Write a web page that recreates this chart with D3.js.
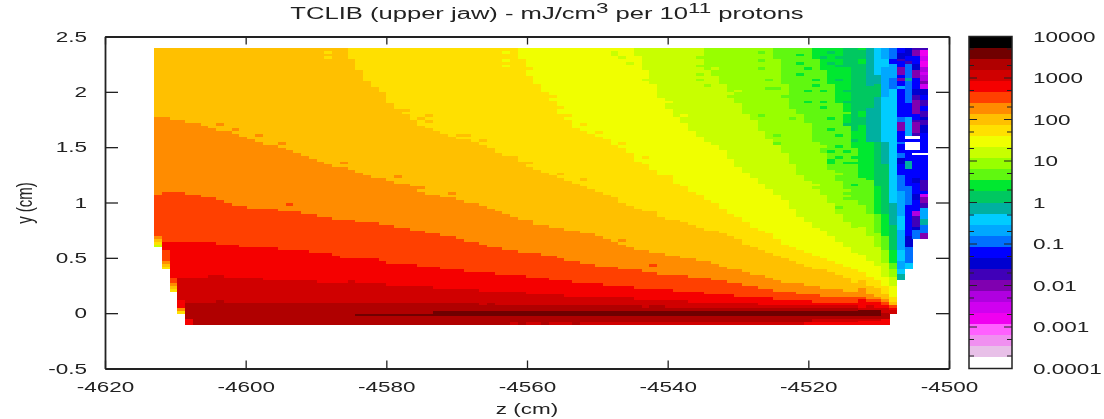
<!DOCTYPE html>
<html>
<head>
<meta charset="utf-8">
<script src="https://cdn.jsdelivr.net/npm/d3@7"></script>
<style>
  html, body { margin: 0; padding: 0; background: #fff; }
  svg { display: block; filter: blur(0.4px); }
  text { font-family: 'Liberation Sans', Arial, sans-serif; font-size: 15px; fill: #222; }
</style>
</head>
<body>
<svg id="chart" width="1104" height="419"></svg>
<script>
// palette from the top of the colour bar (10000) to the bottom (0.0001)
const levelColors = [
  '#000000', '#700000', '#b00000', '#d00000', '#f50000', '#ff4000', '#ff8c00', '#ffc000', '#ffe000', '#f0ff00',
  '#c8ff00', '#98ff00', '#60f810', '#00e830', '#00c860', '#00b0a0', '#00ccff', '#00a8ff', '#0070ff', '#0000ff',
  '#0000d0', '#4000b8', '#8000b0', '#b000e0', '#d000f0', '#f000f0', '#ff60ff', '#f090f0', '#e8c0e8', '#ffffff',
]

const zTicks = [-4620, -4600, -4580, -4560, -4540, -4520, -4500]
const yTicks = [-0.5, 0, 0.5, 1, 1.5, 2, 2.5]
const barTicks = [10000, 1000, 100, 10, 1, 0.1, 0.01, 0.001, 0.0001]
const barLabels = ['10000', '1000', '100', '10', '1', '0.1', '0.01', '0.001', '0.0001']
const barMinor = [5000, 2000, 500, 200, 50, 20, 5, 2, 0.5, 0.2, 0.05, 0.02, 0.005, 0.002, 0.0005, 0.0002]

// grid of the scoring mesh: 100 z bins, 100 y bins
const zStart = -4613
const zBin = 1.1
const yStart = -0.1
const yBin = 0.025

// columns 0-90: for each dose level, the first y bin above that level, per column
const edge2 = [
  0,0,0,0,8,8,8,8,9,8,
  8,8,8,8,8,8,8,8,8,8,
  8,8,8,8,8,8,8,8,8,8,
  8,8,8,8,8,8,8,8,8,8,
  8,8,7,8,7,7,7,7,7,7,
  7,7,7,7,7,7,7,7,7,7,
  7,7,7,6,7,7,6,6,6,6,
  6,6,6,6,6,6,6,6,6,6,
  6,6,6,6,6,6,6,6,6,6,6]
const edge3 = [
  0,0,0,17,17,17,17,18,18,17,
  17,17,17,17,16,16,16,16,16,16,
  16,15,15,15,15,16,15,15,15,15,
  14,14,14,14,14,14,13,13,13,13,
  13,13,12,12,12,12,12,12,11,11,
  11,11,11,10,10,10,10,10,10,10,
  10,10,9,9,9,9,9,9,9,8,
  8,8,8,8,8,8,8,8,7,7,
  7,7,7,7,7,7,7,7,7,7,7]
const edge4 = [
  0,30,30,30,30,30,30,30,29,29,
  29,28,28,28,28,28,27,27,27,27,
  26,26,26,25,24,24,24,24,24,23,
  22,22,22,22,21,21,21,20,20,20,
  19,19,19,19,18,18,18,18,17,17,
  17,16,16,16,15,15,15,15,14,14,
  14,14,13,13,13,13,13,12,12,12,
  12,11,11,11,11,10,10,10,10,10,
  9,9,9,9,9,8,8,8,8,8,8]
const edge5 = [
  47,48,48,48,47,47,46,46,45,44,
  43,43,42,42,42,42,41,41,41,40,
  40,39,39,38,38,38,37,37,37,36,
  36,35,35,34,34,33,33,32,32,31,
  30,30,29,28,28,27,27,26,26,26,
  25,25,24,23,23,22,22,21,21,21,
  20,20,20,19,19,18,18,18,18,17,
  17,17,16,16,15,15,14,14,13,13,
  12,12,12,11,11,11,10,10,10,10,10]
const edge6 = [
  75,75,74,74,73,73,72,71,70,70,
  69,68,67,66,65,65,64,63,62,61,
  60,59,58,57,57,56,55,54,53,53,
  52,51,51,50,48,47,47,46,46,45,
  44,44,43,42,41,40,39,38,38,36,
  36,35,35,34,34,33,33,32,31,30,
  29,28,27,27,26,26,25,25,24,24,
  23,23,22,21,20,20,19,18,18,17,
  16,15,15,15,14,14,13,13,13,12,12]
const edge7 = [
  100,100,100,100,100,100,100,100,100,100,
  100,100,100,100,100,100,100,100,100,100,
  100,100,100,100,100,96,92,88,86,84,
  80,78,76,74,72,71,70,69,68,67,
  67,66,65,64,62,61,60,59,57,56,
  55,54,53,52,51,50,49,48,47,46,
  44,43,42,41,41,39,38,38,37,36,
  35,34,34,33,32,31,29,28,27,26,
  25,24,23,22,21,20,20,19,18,17,15]
const edge8 = [
  100,100,100,100,100,100,100,100,100,100,
  100,100,100,100,100,100,100,100,100,100,
  100,100,100,100,100,100,100,100,100,100,
  100,100,100,100,100,100,100,100,100,100,
  100,100,100,100,100,100,100,96,90,87,
  84,81,76,74,71,70,69,68,67,65,
  64,62,59,58,56,54,54,51,50,48,
  47,45,44,42,40,39,37,35,34,33,
  31,29,28,27,26,25,24,23,22,21,20]
const edge9 = [
  100,100,100,100,100,100,100,100,100,100,
  100,100,100,100,100,100,100,100,100,100,
  100,100,100,100,100,100,100,100,100,100,
  100,100,100,100,100,100,100,100,100,100,
  100,100,100,100,100,100,100,100,100,100,
  100,100,100,100,100,100,100,100,100,100,
  100,100,97,92,87,82,78,75,73,70,
  68,66,65,63,60,57,55,53,51,49,
  47,45,42,39,37,35,34,32,30,28,26]
const edge10 = [
  100,100,100,100,100,100,100,100,100,100,
  100,100,100,100,100,100,100,100,100,100,
  100,100,100,100,100,100,100,100,100,100,
  100,100,100,100,100,100,100,100,100,100,
  100,100,100,100,100,100,100,100,100,100,
  100,100,100,100,100,100,100,100,100,100,
  100,100,100,100,100,100,100,100,100,100,
  100,92,90,87,84,80,77,74,70,67,
  65,62,58,54,52,49,47,44,40,37,35]
const edge11 = [
  100,100,100,100,100,100,100,100,100,100,
  100,100,100,100,100,100,100,100,100,100,
  100,100,100,100,100,100,100,100,100,100,
  100,100,100,100,100,100,100,100,100,100,
  100,100,100,100,100,100,100,100,100,100,
  100,100,100,100,100,100,100,100,100,100,
  100,100,100,100,100,100,100,100,100,100,
  100,100,100,100,100,100,100,100,100,100,
  96,87,78,76,73,66,62,56,52,47,45]
const edge12 = [
  100,100,100,100,100,100,100,100,100,100,
  100,100,100,100,100,100,100,100,100,100,
  100,100,100,100,100,100,100,100,100,100,
  100,100,100,100,100,100,100,100,100,100,
  100,100,100,100,100,100,100,100,100,100,
  100,100,100,100,100,100,100,100,100,100,
  100,100,100,100,100,100,100,100,100,100,
  100,100,100,100,100,100,100,100,100,100,
  100,100,100,100,100,96,92,87,80,72,64]
const edge13 = [
  100,100,100,100,100,100,100,100,100,100,
  100,100,100,100,100,100,100,100,100,100,
  100,100,100,100,100,100,100,100,100,100,
  100,100,100,100,100,100,100,100,100,100,
  100,100,100,100,100,100,100,100,100,100,
  100,100,100,100,100,100,100,100,100,100,
  100,100,100,100,100,100,100,100,100,100,
  100,100,100,100,100,100,100,100,100,100,
  100,100,100,100,100,100,100,100,100,93,70]

// thin hottest streak just above the bottom of the jaw
const darkLow = [
  0,0,0,0,0,0,0,0,0,0,
  0,0,0,0,0,0,0,0,0,0,
  0,0,0,0,0,0,3,3,3,3,
  3,3,3,3,3,3,3,3,3,3,
  3,3,3,3,3,3,3,3,3,3,
  3,3,3,3,3,3,3,3,3,3,
  3,3,3,3,3,3,3,3,3,3,
  3,3,3,3,3,3,3,3,3,3,
  3,3,3,3,3,3,3,3,3,3,3]
const darkHigh = [
  0,0,0,0,0,0,0,0,0,0,
  0,0,0,0,0,0,0,0,0,0,
  0,0,0,0,0,0,4,4,4,4,
  4,4,4,4,4,4,5,5,5,5,
  5,5,5,5,5,5,5,5,5,5,
  5,5,5,5,5,5,5,5,5,5,
  5,5,5,5,5,5,5,5,5,5,
  5,5,5,5,5,5,5,5,5,5,
  5,5,5,5,5,5,5,5,5,5,5]

// level of the lowest y bin
const floorLevels = [
  0,0,0,0,4,2,2,2,2,2,
  2,2,2,2,2,2,2,2,2,2,
  2,2,2,2,2,2,2,2,2,2,
  2,2,2,2,2,2,2,2,2,2,
  2,2,2,2,2,2,3,2,3,3,
  2,3,3,3,2,3,3,3,3,3,
  3,3,3,3,3,3,3,3,3,3,
  3,3,3,3,3,3,3,3,3,3,
  3,3,3,3,4,4,4,4,4,4,4]

// the left columns start higher up
const firstBin = [28, 20, 12, 4]

// single bins that break the bands: [column, y bin, level]
const strayBins = [
  [0,28,10],[0,29,8],[0,30,7],[0,31,6],
  [1,20,8],[1,21,7],[1,22,6],[1,23,5],[1,24,5],[1,25,5],[1,26,5],
  [2,12,8],[2,13,7],[2,14,6],[2,15,5],[2,16,5],
  [3,4,8],[3,5,6],[3,6,4],[3,7,4],[3,8,4],[4,1,4],
  [8,72,6],[10,70,6],[13,68,6],[16,65,6],[24,58,6],[31,53,6],[34,49,6],[38,47,6],[60,30,6],
  [17,43,5],[64,21,5],
  [32,77,7],[34,74,7],[35,73,7],[35,75,7],[39,68,7],[40,68,7],[42,66,7],[46,60,7],[48,58,7],[52,54,7],[55,52,7],
  [22,98,8],[22,96,8],
  [45,98,9],[45,95,9],[45,93,9],
  [48,92,8],[51,82,8],[52,78,8],[53,75,8],[55,72,8],[57,69,8],[60,65,8],[63,60,8],
  [59,98,10],[59,97,10],[60,96,10],[61,94,10],[63,88,10],
  [66,80,9],[68,75,9],
  [70,96,11],[70,93,11],[70,90,11],[70,88,11],[71,86,11],[74,82,11],[76,76,11],
  [72,94,11],[72,96,11],[73,92,11],[75,86,11],[77,78,11],[77,80,11],[79,72,11],[81,66,11],[83,58,11],[84,56,11],[85,52,11],[86,50,11],[87,46,11],
  [72,92,10],[75,84,10],[79,66,10],[83,52,10],[85,50,10],
  [78,98,12],[78,95,12],[78,92,12],[78,75,12],[79,88,12],[79,85,12],[80,85,12],[81,82,12],[80,68,12],[80,65,12],[82,74,12],
  [81,94,12],[81,90,12],[82,88,12],[82,84,12],[83,80,12],[84,77,12],[84,74,12],[85,70,12],[85,68,12],[87,60,12],[88,56,12],[89,50,12],[90,47,12],
  [86,64,11],[88,54,11],[89,48,11],
  [83,97,13],[83,94,13],[83,90,13],[84,84,13],[84,80,13],[86,78,13],[87,62,13],[87,59,13],[87,58,13],[88,64,13],[90,60,13],[90,50,13],
  [84,92,13],[85,88,13],[85,86,13],[86,84,13],[86,80,13],[87,74,13],[87,70,13],[88,68,13],[88,60,13],[89,62,13],[89,58,13],[90,58,13],
  [88,72,12],[89,76,12],[90,55,12],[89,45,12],[88,42,12],[90,52,12],
  [87,98,14],[88,96,14],[88,93,14],[89,84,14],[86,96,14],[87,94,14],[88,88,14],[89,80,14],[89,72,14],[90,66,14],
  [85,1,3],[86,1,3],[87,1,3],[88,1,3],[89,1,3],[90,1,3],
]

// columns 91-99 are noisy, kept as [level, bins] runs from the top down
const column91 = [[13,1],[14,3],[13,2],[14,17],[13,2],[14,3],[13,19],[12,10],[11,8],[10,10],[9,6],[8,3],[7,3],[6,3],[5,1],[4,3],[3,1],[1,2],[2,1],[3,1],[4,1]]
const column92 = [[15,14],[14,8],[15,12],[13,14],[12,12],[11,8],[10,9],[9,6],[8,3],[7,3],[6,2],[5,1],[4,1],[3,2],[1,2],[2,1],[3,1],[4,1]]
const column93 = [[16,10],[15,3],[14,5],[15,16],[14,16],[13,10],[12,7],[11,5],[10,7],[9,5],[8,3],[7,3],[6,1],[5,1],[4,2],[3,1],[1,2],[2,1],[3,1],[4,1]]
const column94 = [[17,4],[16,3],[17,11],[16,16],[15,8],[14,18],[13,8],[12,5],[11,5],[10,5],[9,3],[8,3],[7,2],[6,1],[5,1],[4,1],[3,2],[2,2],[4,2]]
const column95 = [[18,4],[19,2],[17,5],[18,4],[16,41],[15,8],[14,9],[13,5],[12,2],[11,3],[10,3],[9,4],[8,2],[7,1],[5,1],[4,1],[3,1]]
const column96 = [[19,2],[20,2],[21,1],[19,2],[22,3],[19,1],[22,1],[19,2],[17,1],[19,10],[18,2],[22,3],[19,4],[18,1],[19,3],[18,2],[20,2],[19,4],[18,6],[17,9],[16,5],[17,7],[16,4],[17,3],[16,2],[15,2]]
const column97 = [[20,3],[19,2],[21,1],[18,5],[15,1],[18,8],[19,5],[17,7],[29,1],[19,1],[29,3],[19,4],[15,3],[19,6],[18,7],[19,11],[20,4],[18,6],[16,2]]
const column98 = [[21,1],[22,2],[19,3],[20,2],[22,3],[19,4],[20,2],[21,2],[22,5],[19,2],[21,1],[22,4],[21,1],[29,1],[19,1],[29,3],[19,1],[29,1],[19,8],[20,2],[19,4],[20,2],[19,4],[23,2],[21,4],[20,1],[18,3]]
const column99 = [[21,1],[25,2],[24,2],[25,2],[23,2],[24,1],[23,2],[22,1],[24,2],[20,2],[19,2],[21,2],[19,2],[21,2],[20,1],[21,2],[20,3],[19,7],[29,1],[19,9],[21,4],[19,1],[24,1],[22,2],[21,2],[17,4],[15,2],[18,3],[22,2]]
const noisyColumns = [column91, column92, column93, column94, column95, column96, column97, column98, column99]

const bandEdges = [edge2, edge3, edge4, edge5, edge6, edge7, edge8, edge9, edge10, edge11, edge12, edge13]

const svg = d3.select('#chart')

// the reference is stretched sideways, all text keeps that look
const textStretch = 1.5

const zScale = d3.scaleLinear().domain([-4620, -4500]).range([105, 949])
const yScale = d3.scaleLinear().domain([-0.5, 2.5]).range([368.5, 36.5])
const barScale = d3.scaleLog().domain([0.0001, 10000]).range([368.5, 36.5])

const plotTop = yScale.range()[1]
const plotBottom = yScale.range()[0]
const plotLeft = zScale.range()[0]
const plotRight = zScale.range()[1]

// turn the band edges and the noisy columns into vertical runs of one level
const bandLevel = (col, bin) => {
  if (bin === 0) return floorLevels[col]
  if (bin >= darkLow[col] && bin < darkHigh[col]) return 1
  const idx = bandEdges.findIndex((edge) => bin < edge[col])
  return idx === -1 ? 14 : idx + 2
}

const cells = []
for (let col = 0; col <= 90; col++) {
  for (let bin = firstBin[col] || 0; bin < 100; bin++) {
    cells.push({ col, bin, level: bandLevel(col, bin) })
  }
}
const cellIndex = new Map(cells.map((d) => [d.col + '_' + d.bin, d]))
strayBins.forEach(([col, bin, level]) => {
  const cell = cellIndex.get(col + '_' + bin)
  if (cell) cell.level = level
})
noisyColumns.forEach((runs, i) => {
  let bin = 100
  runs.forEach(([level, count]) => {
    for (let k = 0; k < count; k++) {
      bin--
      cells.push({ col: 91 + i, bin, level })
    }
  })
})

// heat map
svg
  .append('g')
  .attr('shape-rendering', 'crispEdges')
  .selectAll('rect')
  .data(cells)
  .join('rect')
  .attr('x', (d) => zScale(zStart + d.col * zBin))
  .attr('y', (d) => yScale(yStart + (d.bin + 1) * yBin))
  .attr('width', (d) => zScale(zStart + (d.col + 1) * zBin) - zScale(zStart + d.col * zBin) + 0.5)
  .attr('height', (d) => yScale(yStart + d.bin * yBin) - yScale(yStart + (d.bin + 1) * yBin) + 0.5)
  .attr('fill', (d) => levelColors[d.level])

// stretched axis labels
const stretchLabels = (sel, anchor, offset) => {
  sel
    .selectAll('text')
    .attr('transform', `scale(${textStretch},1)`)
    .attr('text-anchor', anchor)
    .attr('x', offset / textStretch)
    .attr('font-size', 15)
}

const styleAxis = (g) => {
  g.selectAll('path').attr('stroke', '#222').attr('stroke-width', 1.8)
  g.selectAll('line').attr('stroke', '#222').attr('stroke-width', 1.3)
}

// frame with inward ticks, gnuplot style
const bottomAxis = d3.axisBottom(zScale).tickValues(zTicks).tickSizeInner(-8).tickSizeOuter(0).tickPadding(13).tickFormat((d) => String(d))
const gBottom = svg.append('g').attr('transform', `translate(0,${plotBottom})`).call(bottomAxis)
gBottom.call(styleAxis)
stretchLabels(gBottom, 'middle', 0)

const topAxis = d3.axisTop(zScale).tickValues(zTicks).tickSizeInner(-8).tickSizeOuter(0).tickFormat('')
svg.append('g').attr('transform', `translate(0,${plotTop})`).call(topAxis).call(styleAxis)

const leftAxis = d3.axisLeft(yScale).tickValues(yTicks).tickSizeInner(-13).tickSizeOuter(0).tickFormat((d) => String(d))
const gLeft = svg.append('g').attr('transform', `translate(${plotLeft},0)`).call(leftAxis)
gLeft.call(styleAxis)
stretchLabels(gLeft, 'end', -18)

const rightAxis = d3.axisRight(yScale).tickValues(yTicks).tickSizeInner(-13).tickSizeOuter(0).tickFormat('')
svg.append('g').attr('transform', `translate(${plotRight},0)`).call(rightAxis).call(styleAxis)

// colour bar
const barLeft = 969
const barRight = 1012
svg
  .append('g')
  .attr('shape-rendering', 'crispEdges')
  .selectAll('rect')
  .data(levelColors)
  .join('rect')
  .attr('x', barLeft)
  .attr('width', barRight - barLeft)
  .attr('y', (d, i) => barScale(Math.pow(10, 4 - (8 * i) / 30)))
  .attr('height', (d, i) => barScale(Math.pow(10, 4 - (8 * (i + 1)) / 30)) - barScale(Math.pow(10, 4 - (8 * i) / 30)) + 0.5)
  .attr('fill', (d) => d)

svg
  .append('rect')
  .attr('x', barLeft)
  .attr('y', plotTop)
  .attr('width', barRight - barLeft)
  .attr('height', plotBottom - plotTop)
  .attr('fill', 'none')
  .attr('stroke', '#222')
  .attr('stroke-width', 1.5)

const barTickData = barTicks.map((v) => ({ v, len: 8 })).concat(barMinor.map((v) => ({ v, len: 5 })))
svg
  .append('g')
  .selectAll('path')
  .data(barTickData)
  .join('path')
  .attr('d', (d) => {
    const y = barScale(d.v)
    return `M${barLeft},${y}h${d.len}M${barRight},${y}h${-d.len}`
  })
  .attr('stroke', '#222')
  .attr('stroke-width', 1)

svg
  .append('g')
  .selectAll('text')
  .data(barTicks)
  .join('text')
  .attr('transform', (d) => `translate(1033,${barScale(d)}) scale(${textStretch},1)`)
  .attr('dy', '0.36em')
  .text((d, i) => barLabels[i])

// titles
const title = svg
  .append('text')
  .attr('transform', 'translate(547,19) scale(1.6,1)')
  .attr('text-anchor', 'middle')
  .style('font-size', '16px')
title.append('tspan').text('TCLIB (upper jaw) - mJ/cm')
title.append('tspan').attr('dy', -6).style('font-size', '14px').text('3')
title.append('tspan').attr('dy', 6).text(' per 10')
title.append('tspan').attr('dy', -6).style('font-size', '14px').text('11')
title.append('tspan').attr('dy', 6).text(' protons')

svg
  .append('text')
  .attr('transform', `translate(527,414) scale(${textStretch},1)`)
  .attr('text-anchor', 'middle')
  .text('z (cm)')

svg
  .append('text')
  .attr('transform', `translate(32,203) scale(${textStretch},1) rotate(-90)`)
  .attr('text-anchor', 'middle')
  .text('y (cm)')
</script>
</body>
</html>
